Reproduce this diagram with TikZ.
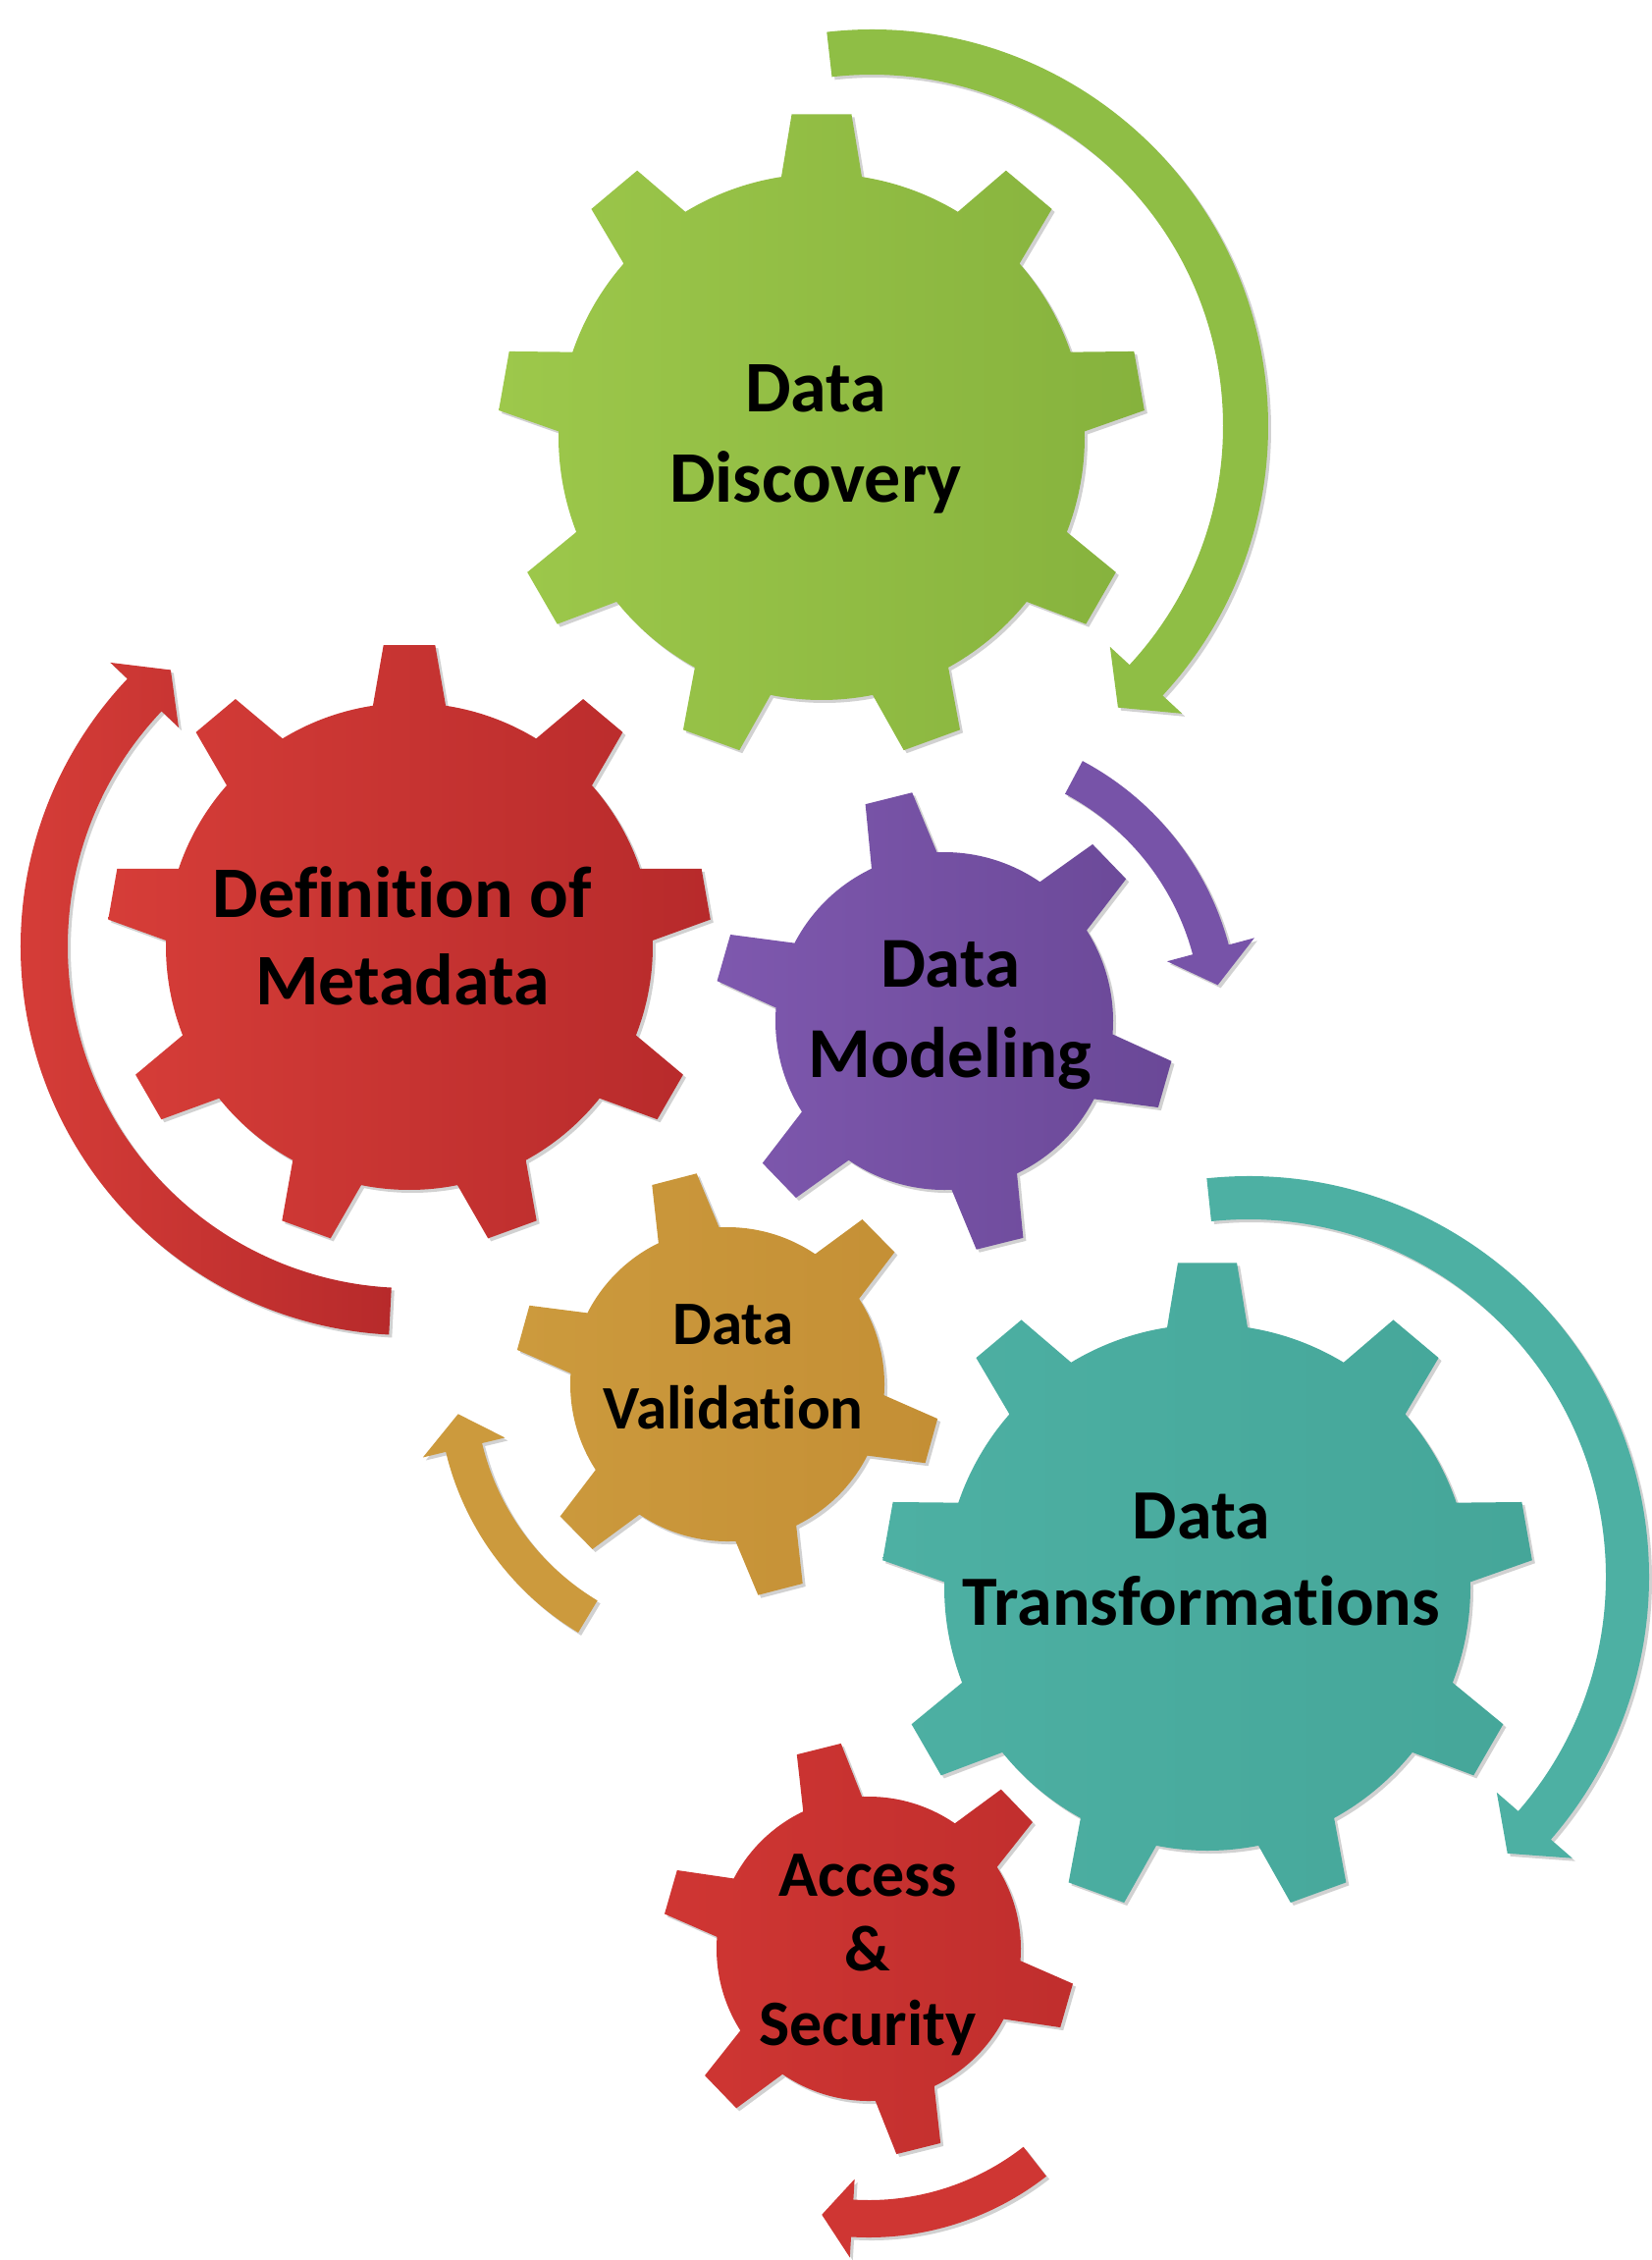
\documentclass[tikz,border=0pt]{standalone}
\usepackage{fontspec}
\setmainfont{Carlito}[Ligatures=NoCommon]
\definecolor{grnA}{HTML}{9DC84B}
\definecolor{grnB}{HTML}{86B23D}
\definecolor{grnArr}{HTML}{8FBE45}
\definecolor{redA}{HTML}{D63D38}
\definecolor{redB}{HTML}{B72A2B}
\definecolor{redArr}{HTML}{CF3A38}
\definecolor{purA}{HTML}{7E58AE}
\definecolor{purB}{HTML}{6A4897}
\definecolor{purArr}{HTML}{7753A8}
\definecolor{gldA}{HTML}{CC9A3D}
\definecolor{gldB}{HTML}{C48F35}
\definecolor{tealA}{HTML}{4DB0A3}
\definecolor{tealB}{HTML}{45A699}
\definecolor{sredA}{HTML}{CF3633}
\definecolor{sredB}{HTML}{C02E2D}
% #1 style, #2 center, #3 teeth, #4 offset, #5 body r, #6 tip r, #7 base half-angle, #8 tip half-angle
\newcommand\drawgear[8]{%
  \path[#1, shift={#2}]
    ({#4-#7}:#5)
    \foreach \k in {1,...,#3}{
      -- ({#4+(\k-1)*360/#3-#7}:#5)
      -- ({#4+(\k-1)*360/#3-#8}:#6)
      -- ({#4+(\k-1)*360/#3+#8}:#6)
      -- ({#4+(\k-1)*360/#3+#7}:#5)
      arc[start angle={#4+(\k-1)*360/#3+#7}, end angle={#4+\k*360/#3-#7}, radius=#5]
    } -- cycle;
}
% #1 style, #2 center, #3 mid r, #4 half thickness, #5 start angle, #6 head base angle, #7 tip angle, #8 head half width
\newcommand\curvedarrow[8]{%
  \path[#1, shift={#2}]
    ({#5}:{#3+#4}) arc[start angle={#5}, end angle={#6}, radius={#3+#4}]
    -- ({#6}:{#3+#8}) -- ({#7}:{#3}) -- ({#6}:{#3-#8}) -- ({#6}:{#3-#4})
    arc[start angle={#6}, end angle={#5}, radius={#3-#4}] -- cycle;
}
\tikzset{
  lbl/.style={align=center, inner sep=0pt, text=black},
  shadowfill/.style={fill=black!18},
}
\begin{document}
\begin{tikzpicture}[x=1pt,y=1pt]
\fill[white] (0,0) rectangle (1683,-2302);
\useasboundingbox (0,0) rectangle (1683,-2302);

% ---- arrows ----
\curvedarrow{shadowfill}{(891,-437)}{381}{23}{96.5}{-42.8}{-48.8}{50}
\curvedarrow{fill=grnArr}{(888,-434)}{381}{23}{96.5}{-42.8}{-48.8}{50}

\curvedarrow{shadowfill}{(420,-967)}{372}{24}{267}{136.5}{130.8}{48}
\curvedarrow{left color=redA, right color=redB}{(417,-964)}{372}{24}{267}{136.5}{130.8}{48}

\curvedarrow{shadowfill}{(965,-1043)}{281}{19}{62}{15}{7.5}{46}
\curvedarrow{fill=purArr}{(962,-1040)}{281}{19}{62}{15}{7.5}{46}

\curvedarrow{shadowfill}{(744,-1413)}{276}{19}{239}{193.5}{186.3}{43}
\curvedarrow{fill=gldA}{(741,-1410)}{276}{19}{239}{193.5}{186.3}{43}

\curvedarrow{shadowfill}{(1275,-1609)}{386}{22}{96}{-41}{-46.9}{51}
\curvedarrow{fill=tealA}{(1272,-1606)}{386}{22}{96}{-41}{-46.9}{51}

\curvedarrow{shadowfill}{(888,-1988)}{275}{19}{308}{266.5}{260}{40}
\curvedarrow{fill=sredA}{(885,-1985)}{275}{19}{308}{266.5}{260}{40}

% ---- gears ----
\drawgear{shadowfill}{(840,-448)}{9}{90}{268}{330}{8.8}{5.3}
\drawgear{left color=grnA, right color=grnB}{(837,-445)}{9}{90}{268}{330}{8.8}{5.3}

\drawgear{shadowfill}{(420,-967)}{9}{90}{248}{308}{8.6}{4.9}
\drawgear{left color=redA, right color=redB}{(417,-964)}{9}{90}{248}{308}{8.6}{4.9}

\drawgear{shadowfill}{(965,-1043)}{6}{44}{172}{235}{11.5}{6.0}
\drawgear{left color=purA, right color=purB}{(962,-1040)}{6}{44}{172}{235}{11.5}{6.0}

\drawgear{shadowfill}{(744,-1413)}{6}{44.5}{160}{217}{11.5}{6.2}
\drawgear{left color=gldA, right color=gldB}{(741,-1410)}{6}{44.5}{160}{217}{11.5}{6.2}

\drawgear{shadowfill}{(1233,-1620)}{9}{90}{268}{332}{8.8}{5.2}
\drawgear{left color=tealA, right color=tealB}{(1230,-1617)}{9}{90}{268}{332}{8.8}{5.2}

\drawgear{shadowfill}{(888,-1988)}{6}{44}{155}{211}{11.5}{6.3}
\drawgear{left color=sredA, right color=sredB}{(885,-1985)}{6}{44}{155}{211}{11.5}{6.3}

% ---- labels ----
\node[lbl, font=\fontsize{74}{92}\selectfont\bfseries] (dd) at (831,-447) {Data\\Discovery};
\node[lbl, font=\fontsize{74}{89}\selectfont\bfseries] (dm) at (410,-953) {Definition of\\Metadata};
\node[lbl, font=\fontsize{73}{92}\selectfont\bfseries] (dmo) at (968,-1034) {Data\\Modeling};
\node[lbl, font=\fontsize{63}{86}\selectfont\bfseries] (dv) at (747,-1392) {Data\\Validation};
\node[lbl, font=\fontsize{72}{88}\selectfont\bfseries] (dt) at (1224,-1588) {Data\\Transformations};
\node[lbl, font=\fontsize{66}{76}\selectfont\bfseries] (as) at (884,-1991) {Access\\\&\\Security};
\end{tikzpicture}
\end{document}
